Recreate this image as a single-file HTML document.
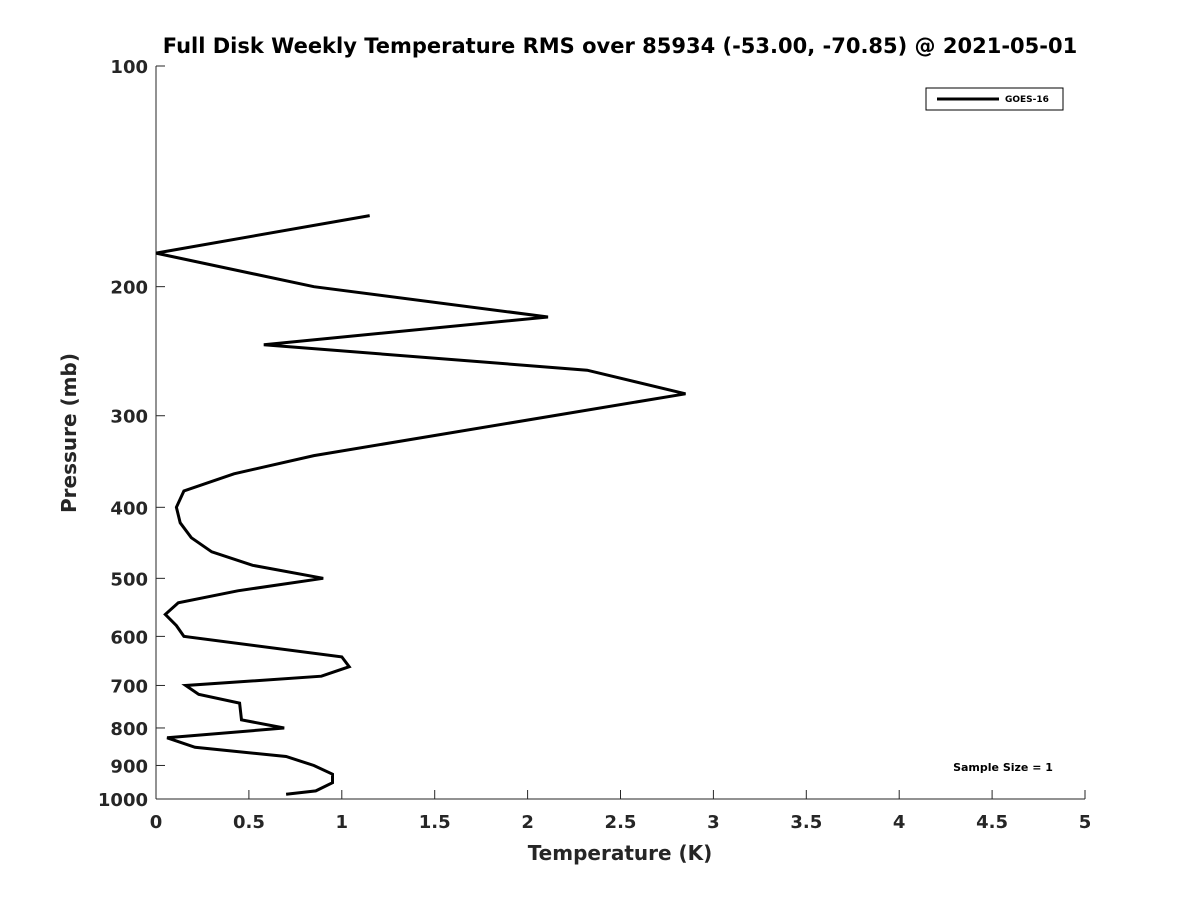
<!DOCTYPE html>
<html><head><meta charset="utf-8"><style>
html,body{margin:0;padding:0;background:#fff;}
svg{display:block;font-family:"DejaVu Sans","Liberation Sans",sans-serif;}
</style></head><body>
<svg id="chart" width="1200" height="900" xmlns="http://www.w3.org/2000/svg">
<rect width="1200" height="900" fill="#fff"/>
<text x="620" y="53" text-anchor="middle" font-size="21" font-weight="bold">Full Disk Weekly Temperature RMS over 85934 (-53.00, -70.85) @ 2021-05-01</text>
<g id="axes"></g>
<path id="line" fill="none" stroke="#000" stroke-width="3" stroke-linejoin="miter"/>
<g>
<rect x="926" y="88" width="137" height="22" fill="#fff" stroke="#000" stroke-width="1"/>
<line x1="937" y1="99" x2="999" y2="99" stroke="#000" stroke-width="3"/>
<text x="1005" y="102" font-size="9" font-weight="bold">GOES-16</text>
</g>
<text x="1003" y="771" text-anchor="middle" font-size="11" font-weight="bold">Sample Size = 1</text>
<text x="620" y="860" text-anchor="middle" font-size="20" font-weight="bold" fill="#262626">Temperature (K)</text>
<text transform="translate(76,433) rotate(-90)" text-anchor="middle" font-size="20" font-weight="bold" fill="#262626">Pressure (mb)</text>
</svg>
<script>
const pressures=[160,180,200,220,240,260,280,340,360,380,400,420,440,460,480,500,520,540,560,580,600,640,660,680,700,720,740,780,800,825,850,875,900,925,950,975,985];
const rmsValues=[1.15,0.0,0.85,2.11,0.58,2.32,2.85,0.85,0.42,0.15,0.11,0.13,0.19,0.30,0.52,0.90,0.44,0.12,0.05,0.11,0.15,1.0,1.04,0.89,0.16,0.23,0.45,0.46,0.69,0.06,0.21,0.70,0.85,0.95,0.95,0.86,0.70];
const xTicks=[0,0.5,1,1.5,2,2.5,3,3.5,4,4.5,5];
const yTicks=[100,200,300,400,500,600,700,800,900,1000];
const X0=156,X1=1085,Y0=66,Y1=799;
const xs=v=>X0+(v/5)*(X1-X0);
const ys=p=>Y0+Math.log10(p/100)*(Y1-Y0);
const NS="http://www.w3.org/2000/svg";
const ax=document.getElementById('axes');
function mk(t,a){const e=document.createElementNS(NS,t);for(const k in a)e.setAttribute(k,a[k]);ax.appendChild(e);return e;}
let l=mk('line',{x1:X0,y1:Y0,x2:X0,y2:Y1,stroke:'#262626','stroke-width':1});


l=mk('line',{x1:X0,y1:Y1,x2:X1,y2:Y1,stroke:'#262626','stroke-width':1});


xTicks.forEach(v=>{
 const x=xs(v);
 mk('line',{x1:x,y1:Y1,x2:x,y2:Y1-9,stroke:'#262626'});
 const t=mk('text',{x:x,y:Y1+29,'text-anchor':'middle','font-size':18,'font-weight':'bold',fill:'#262626'});
 t.textContent=String(v);
 
 
});
yTicks.forEach(p=>{
 const y=ys(p);
 mk('line',{x1:X0,y1:y,x2:X0+9,y2:y,stroke:'#262626'});
 const t=mk('text',{x:X0-8,y:y+7,'text-anchor':'end','font-size':18,'font-weight':'bold',fill:'#262626'});
 t.textContent=String(p);
 
 
});
document.getElementById('line').setAttribute('d',pressures.map((p,i)=>(i?'L':'M')+xs(rmsValues[i]).toFixed(1)+','+ys(p).toFixed(1)).join(''));
</script>
</body></html>
